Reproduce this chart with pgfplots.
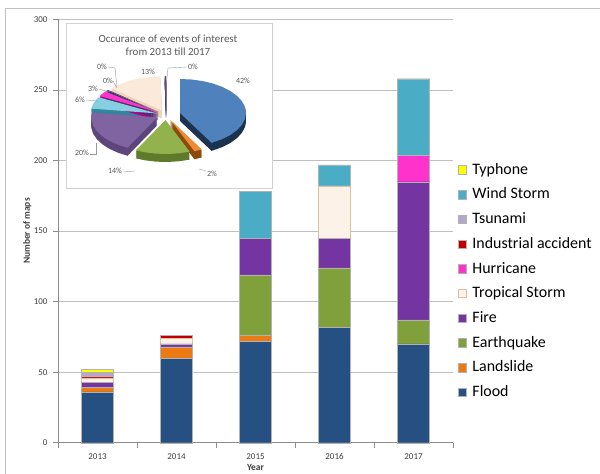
\documentclass[border=0pt]{standalone}
\usepackage{fontspec}
\setmainfont{Carlito}
\usepackage{pgfplots}
\pgfplotsset{compat=1.18}
\usepgfplotslibrary{polar}
\usepackage{pgfplotstable}

\definecolor{cFlood}{HTML}{264F82}
\definecolor{cLand}{HTML}{EC7A12}
\definecolor{cQuake}{HTML}{80A03C}
\definecolor{cFire}{HTML}{7434A2}
\definecolor{cTrop}{HTML}{FDF2E8}
\definecolor{cTropE}{HTML}{DDBFA2}
\definecolor{cHurr}{HTML}{FF33CC}
\definecolor{cInd}{HTML}{C00000}
\definecolor{cTsu}{HTML}{B6A6CC}
\definecolor{cWind}{HTML}{4BACC6}
\definecolor{cTyph}{HTML}{FFFF00}
\definecolor{gridc}{HTML}{BFBFBF}
\definecolor{axisc}{HTML}{8C8C8C}
\definecolor{labc}{HTML}{404040}
\definecolor{titc}{HTML}{595959}
% pie faces / sides
\definecolor{pFloodF}{HTML}{4F81BD}\definecolor{pFloodS}{HTML}{1C3350}
\definecolor{pLandF}{HTML}{F08A32}\definecolor{pLandS}{HTML}{8A4A0C}
\definecolor{pQuakeF}{HTML}{92B24E}\definecolor{pQuakeS}{HTML}{5E7A2A}
\definecolor{pFireF}{HTML}{8064A2}\definecolor{pFireS}{HTML}{5C467C}
\definecolor{pSixF}{HTML}{86CFE0}\definecolor{pSixS}{HTML}{31859C}
\definecolor{pThreeF}{HTML}{FF33CC}\definecolor{pThreeS}{HTML}{B3008C}
\definecolor{pZeroAF}{HTML}{1F3864}\definecolor{pZeroAS}{HTML}{17375E}
\definecolor{pZeroBF}{HTML}{604A7B}\definecolor{pZeroBS}{HTML}{4A3763}
\definecolor{pThirF}{HTML}{FBE9DA}\definecolor{pThirS}{HTML}{F0D2B8}

% pie slices: angle (deg) and radius
\pgfplotstableread{
a r
0 0
90 1
80 1
70 1
60 1
50 1
40 1
30 1
20 1
10 1
0 1
-10 1
-20 1
-30 1
-40 1
-50 1
-61.4 1
0 0
}\pFlood
\pgfplotstableread{
a r
0 0
-61.4 1
-65 1
-68.5 1
0 0
}\pLand
\pgfplotstableread{
a r
0 0
-68.5 1
-78 1
-88 1
-98 1
-108 1
-116.7 1
0 0
}\pQuake
\pgfplotstableread{
a r
0 0
-116.7 1
-126 1
-136 1
-146 1
-156 1
-166 1
-176 1
-188.1 1
0 0
}\pFire
\pgfplotstableread{
a r
0 0
-188.1 1
-198 1
-208.4 1
0 0
}\pSix
\pgfplotstableread{
a r
0 0
-208.4 1
-213 1
-217.4 1
0 0
}\pThree
\pgfplotstableread{
a r
0 0
-217.4 1
-218.8 1
0 0
}\pZeroA
\pgfplotstableread{
a r
0 0
-218.8 1
-220.2 1
0 0
}\pZeroB
\pgfplotstableread{
a r
0 0
-220.2 1
-230 1
-240 1
-250 1
-260 1
-268.9 1
0 0
}\pThirteen
\pgfplotstableread{
a r
0 0
-268.9 1
-270 1
0 0
}\pZeroC

% side of a slice (table, colour, dx, dy)
\newcommand\pieside[4]{%
  \pgfplotsinvokeforeach{8,7,6,5,4,3,2,1}{%
    \addplot[fill=#2, draw=none, data cs=polar, xshift=#3bp, yshift=#4bp, yshift=-##1bp] table[x=a,y=r] {#1};}}
\newcommand\pieface[4]{%
  \addplot[fill=#2, draw=none, data cs=polar, xshift=#3bp, yshift=#4bp] table[x=a,y=r] {#1};}

\begin{document}
\begin{tikzpicture}
\useasboundingbox (0,0) rectangle (600bp,474bp);
\fill[white] (0,0) rectangle (600bp,474bp);
\draw[gridc, line width=1bp] (5.5bp,-10bp) -- (5.5bp,465bp) -- (610bp,465bp);

\begin{axis}[
  at={(58bp,31.3bp)}, anchor=south west,
  scale only axis, width=395bp, height=423.2bp,
  ybar stacked, bar width=0.41,
  xmin=-0.5, xmax=4.5, ymin=0, ymax=300,
  xtick={0,1,2,3,4}, xticklabels={2013,2014,2015,2016,2017},
  minor xtick={-0.5,0.5,1.5,2.5,3.5,4.5},
  ytick={0,50,...,300},
  ymajorgrids, grid style={draw=gridc, line width=0.8bp},
  axis x line*=bottom, axis y line*=left,
  axis line style={draw=axisc, line width=0.8bp, -},
  tick align=outside,
  major tick length=5bp, minor tick length=5bp,
  major x tick style={draw=none},
  minor x tick style={draw=axisc, line width=0.8bp},
  major y tick style={draw=axisc, line width=0.8bp},
  tick label style={font=\fontsize{9}{10}\selectfont, text=labc},
  /pgf/number format/assume math mode=true,
  xticklabel style={yshift=-2bp},
  yticklabel style={xshift=-2bp},
  xlabel={Year}, ylabel={Number of maps},
  label style={font=\bfseries\fontsize{9.5}{11}\selectfont, text=labc},
  xlabel style={at={(axis description cs:0.5,-0.0574)}, anchor=center},
  ylabel style={at={(axis description cs:-0.078,0.5)}, anchor=center},
  reverse legend, legend cell align=left,
  every axis plot post/.append style={legend image code/.code={\draw[##1, line width=0.5bp] (0bp,-4bp) rectangle (8.5bp,4.5bp);}},
  legend style={at={(axis description cs:1.012,0.662)}, anchor=north west, draw=none, fill=none,
    inner sep=0pt, row sep=9.7bp, font=\fontsize{16}{18}\selectfont,
    nodes={text height=11bp, text depth=3bp, inner sep=0.5bp},
    /tikz/every odd column/.append style={column sep=5bp}},
  clip=false,
]
\addplot[fill=cFlood, draw=black!30] coordinates {(0,36) (1,60) (2,72) (3,82) (4,70)};
\addplot[fill=cLand, draw=black!30] coordinates {(0,3) (1,8) (2,4) (3,0) (4,0)};
\addplot[fill=cQuake, draw=black!30] coordinates {(0,0) (1,0) (2,43) (3,42) (4,17)};
\addplot[fill=cFire, draw=black!30] coordinates {(0,4) (1,2) (2,26) (3,21) (4,98)};
\addplot[fill=cTrop, draw=cTropE] coordinates {(0,3) (1,4) (2,0) (3,37) (4,0)};
\addplot[fill=cHurr, draw=black!30] coordinates {(0,0) (1,0) (2,0) (3,0) (4,19)};
\addplot[fill=cInd, draw=black!30] coordinates {(0,1) (1,2) (2,0) (3,0) (4,0)};
\addplot[fill=cTsu, draw=black!30] coordinates {(0,2) (1,0) (2,0) (3,0) (4,0)};
\addplot[fill=cWind, draw=black!30] coordinates {(0,1) (1,0) (2,33) (3,15) (4,54)};
\addplot[fill=cTyph, draw=black!30] coordinates {(0,2) (1,0) (2,0) (3,0) (4,0)};
\legend{Flood,Landslide,Earthquake,Fire,Tropical Storm,Hurricane,Industrial accident,Tsunami,Wind Storm,Typhone}
\end{axis}

% inset frame
\draw[fill=white, draw=gridc!70, line width=0.8bp] (66bp,451bp) rectangle (272bp,286bp);
\node[text=titc, font=\fontsize{11}{13}\selectfont, align=center] at (168bp,429bp)
  {Occurance of events of interest\\from 2013 till 2017};

\begin{axis}[
  at={(166bp,359bp)}, anchor=center,
  x=66bp, y=34bp, xmin=-2, xmax=2, ymin=-2, ymax=2,
  hide axis, clip=false,
]
\pieside{\pThirteen}{pThirS}{-4.3}{4.6}
\pieside{\pZeroC}{pZeroBS}{0}{5}
\pieside{\pSix}{pSixS}{-9.4}{1.6}
\pieside{\pThree}{pThreeS}{-8.3}{2.8}
\pieside{\pZeroA}{pZeroAS}{-7.8}{3.1}
\pieside{\pZeroB}{pZeroBS}{-7.6}{3.2}
\pieside{\pFire}{pFireS}{-8.8}{-2.4}
\pieside{\pQuake}{pQuakeS}{-0.5}{-5}
\pieside{\pLand}{pLandS}{4.2}{-4.6}
\pieside{\pFlood}{pFloodS}{14}{2}
\pieface{\pThirteen}{pThirF}{-4.3}{4.6}
\pieface{\pZeroC}{pZeroBF}{0}{5}
\pieface{\pSix}{pSixF}{-9.4}{1.6}
\pieface{\pThree}{pThreeF}{-8.3}{2.8}
\pieface{\pZeroA}{pZeroAF}{-7.8}{3.1}
\pieface{\pZeroB}{pZeroBF}{-7.6}{3.2}
\pieface{\pFire}{pFireF}{-8.8}{-2.4}
\pieface{\pQuake}{pQuakeF}{-0.5}{-5}
\pieface{\pLand}{pLandF}{4.2}{-4.6}
\pieface{\pFlood}{pFloodF}{14}{2}
\end{axis}

% pie labels and leader lines
\begin{scope}[every node/.style={text=titc, font=\fontsize{8}{9}\selectfont, inner sep=0.5bp}]
\draw[gridc!80!black, line width=0.4bp] (187bp,407bp) -- (168bp,406bp) -- (167bp,396bp);
\draw[gridc!80!black, line width=0.4bp] (123bp,302bp) -- (135bp,303bp);
\draw[gridc!80!black, line width=0.4bp] (90bp,320bp) -- (96bp,320bp) -- (96bp,331bp);
\draw[gridc!80!black, line width=0.4bp] (86bp,374bp) -- (98bp,373bp);
\draw[gridc!80!black, line width=0.4bp] (99bp,385bp) -- (109bp,382bp);
\draw[gridc!80!black, line width=0.4bp] (113bp,393bp) -- (117bp,386bp);
\draw[gridc!80!black, line width=0.4bp] (108bp,407bp) -- (115bp,406bp) -- (117bp,387bp);
\draw[gridc!80!black, line width=0.4bp] (199bp,305bp) -- (206bp,303bp);
\node at (243bp,393bp) {42\%};
\node at (212bp,300bp) {2\%};
\node at (115bp,303bp) {14\%};
\node at (82bp,321bp) {20\%};
\node at (80bp,374bp) {6\%};
\node at (93bp,385bp) {3\%};
\node at (108bp,393bp) {0\%};
\node at (102bp,407bp) {0\%};
\node at (148bp,402bp) {13\%};
\node at (193bp,407bp) {0\%};
\end{scope}
\end{tikzpicture}
\end{document}
